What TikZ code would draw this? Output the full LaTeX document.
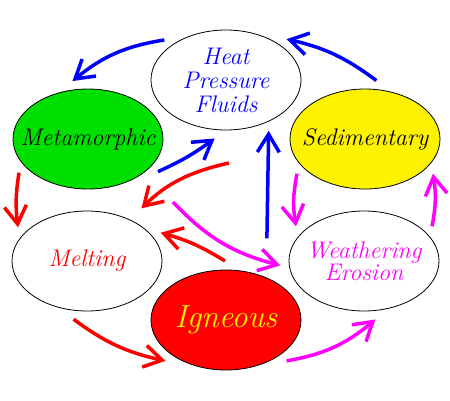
\documentclass[tikz,border=0pt]{standalone}
\usepackage{fontspec}
\usepackage{tikz}
\usetikzlibrary{shapes.geometric,arrows.meta}

\definecolor{rockgreen}{RGB}{0,224,0}
\definecolor{pink}{RGB}{255,0,255}

\begin{document}
\begin{tikzpicture}[x=1pt,y=1pt,
  rock/.style={ellipse,draw=black,line width=0.8pt,minimum width=150pt,minimum height=100pt,outer sep=9pt},
  rocklabel/.style={font=\fontsize{24}{24}\selectfont\itshape,align=center,inner sep=0pt},
  flow/.style={line width=3.5pt,-{Straight Barb[length=18pt,width=22pt]}}]
\fill[white] (0,0) rectangle (450,-400);
\useasboundingbox (0,0) rectangle (450,-400);

% the six ellipses
\node[rock] (heat) at (226,-80) {};
\node[rock,fill=rockgreen] (meta) at (88,-139) {};
\node[rock,fill=yellow] (sed) at (365,-139) {};
\node[rock] (melt) at (87,-261) {};
\node[rock,fill=red] (ign) at (226,-320) {};
\node[rock] (weath) at (364,-261) {};

\node[rocklabel,text=blue] (heattext) at (heat) {Heat\\Pressure\\Fluids};
\node[rocklabel] (metatext) at (meta) {Metamorphic};
\node[rocklabel] (sedtext) at (sed) {Sedimentary};
\node[rocklabel,text=red] (melttext) at (melt) {Melting};
\node[rocklabel,text=yellow,font=\fontsize{32}{34}\selectfont\itshape] (igntext) at (ign) {Igneous};
\node[rocklabel,text=pink,font=\fontsize{24}{21}\selectfont\itshape] (weathtext) at (weath) {Weathering\\Erosion};

\coordinate (meltfrom) at (229,-163);
\coordinate (erodefrom) at (173,-202);

% blue
\draw[flow,blue] (heat.147) to[bend right=15] (meta.105);
\draw[flow,blue] (sed.79) to[bend right=12] (heat.34);
\draw[flow,blue] (meta.335) to[bend right=6] (heat.259);
\draw[flow,blue,shorten <=30pt] (ign.52) -- (heat.310);

% red
\draw[flow,red,shorten >=7pt] (meltfrom) to[bend right=16] (melt.44);
\draw[flow,red] (meta.206) to[bend right=8] (melt.154);
\draw[flow,red] (ign.91) to[bend right=8] (melt.21);
\draw[flow,red] (melt.257) to[bend right=12] (ign.214);

% magenta
\draw[flow,pink] (erodefrom) to[bend right=16] (weath.183);
\draw[flow,pink] (sed.207) to[bend right=10] (weath.153);
\draw[flow,pink] (weath.27) to[bend right=10] (sed.333);
\draw[flow,pink] (ign.326) to[bend right=15] (weath.281);
\end{tikzpicture}
\end{document}
